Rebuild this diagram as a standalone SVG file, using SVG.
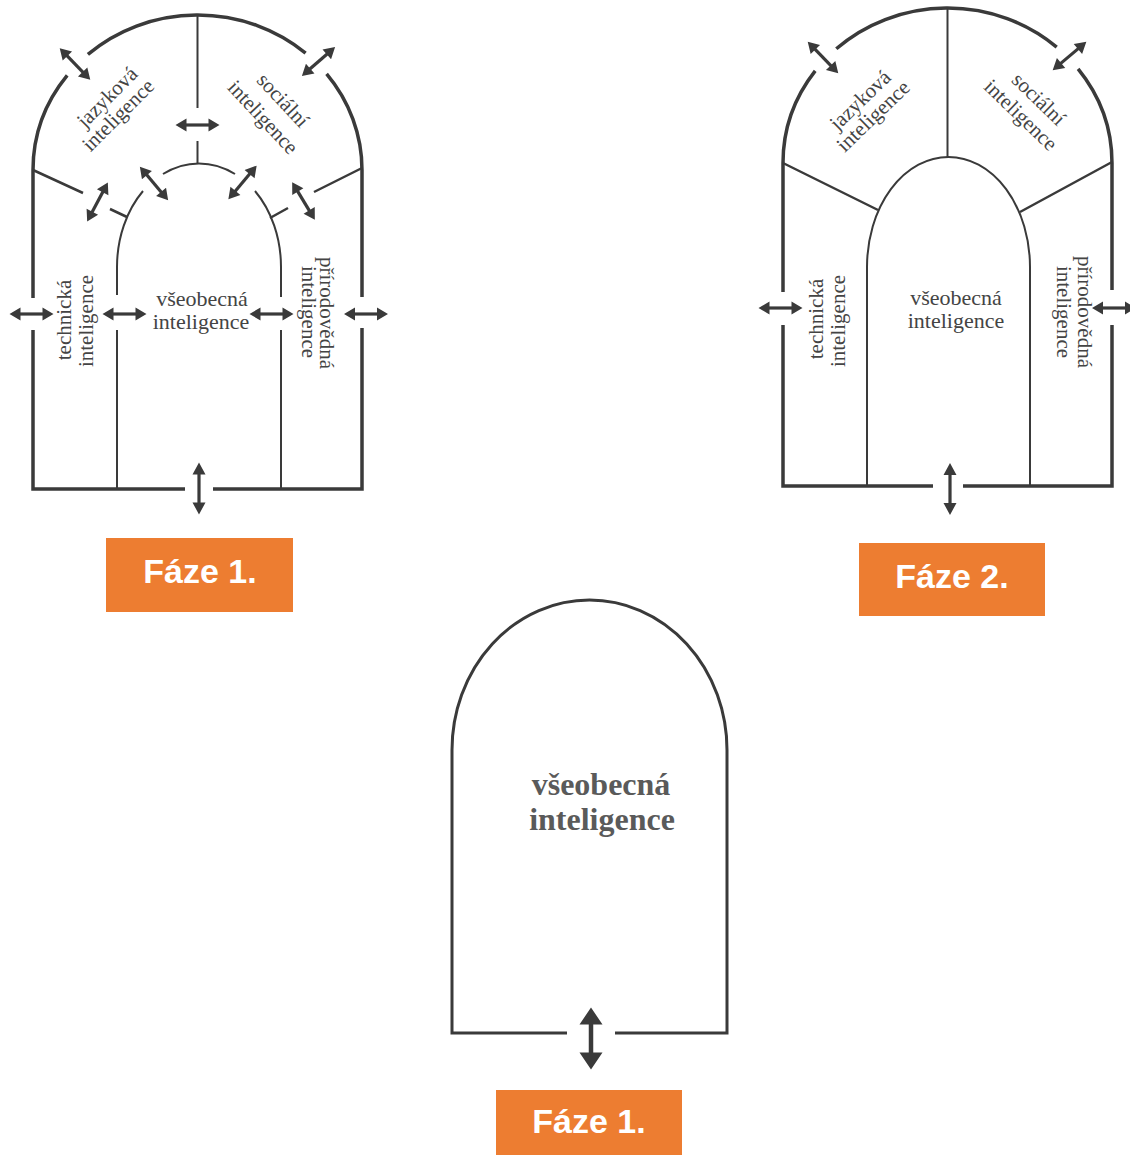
<svg xmlns="http://www.w3.org/2000/svg" xmlns:xlink="http://www.w3.org/1999/xlink" width="1130" height="1155" viewBox="0 0 1130 1155">
<style>
.bg{fill:#ffffff}
.o{fill:none;stroke:#3a3a3a;stroke-width:3.5;stroke-linecap:butt}
.i{fill:none;stroke:#3a3a3a;stroke-width:2}
.d{fill:none;stroke:#3a3a3a;stroke-width:2.5}
.lbl{font-family:"Liberation Serif","DejaVu Serif",serif;font-size:21px;fill:#444;text-anchor:middle}
.big{font-family:"Liberation Serif","DejaVu Serif",serif;font-size:32px;font-weight:bold;fill:#5a5a5a;text-anchor:middle}
.box{fill:#ED7D31}
.bt{font-family:"Liberation Sans",Arial,sans-serif;font-size:34px;font-weight:bold;fill:#ffffff;text-anchor:middle}
.al{stroke:#3a3a3a;stroke-width:3.2}
.ah{fill:#3a3a3a}
</style>
<defs>
<g id="a44"><line class="al" x1="-13" y1="0" x2="13" y2="0"/><path class="ah" d="M-22,0 L-11,-6.5 L-11,6.5 Z M22,0 L11,-6.5 L11,6.5 Z"/></g>
<g id="a52"><line class="al" x1="-16" y1="0" x2="16" y2="0"/><path class="ah" d="M-26,0 L-14,-6.5 L-14,6.5 Z M26,0 L14,-6.5 L14,6.5 Z"/></g>
<g id="a62"><line class="al" style="stroke-width:4.5" x1="-16" y1="0" x2="16" y2="0"/><path class="ah" d="M-31,0 L-14,-11.5 L-14,11.5 Z M31,0 L14,-11.5 L14,11.5 Z"/></g>
</defs>
<rect class="bg" x="0" y="0" width="1130" height="1155"/>

<!-- Figure 1 (Fáze 1, top-left) -->
<g id="fig1">
<path class="o" d="M33,298 L33,170 A164.5,155 0 0 1 67.2,75.4 M87.9,54.4 A164.5,155 0 0 1 305.6,53.1 M326.6,73.9 A164.5,155 0 0 1 362,170 L362,297"/>
<path class="o" d="M33,330 L33,489 L185,489 M213,489 L362,489 L362,328"/>
<path class="i" d="M197.5,15 L197.5,108 M197.5,141 L197.5,163"/>
<path class="i" d="M117,489 L117,330 M117,295 L117,267 A82,104 0 0 1 143,191 M163,174 A82,104 0 0 1 235,174 M255,191 A82,104 0 0 1 281,267 L281,297 M281,330 L281,489"/>
<path class="d" d="M33,170 L83,193 M110,209 L127,217 M362,168 L314,192 M288,208 L270,218"/>
<text class="lbl" transform="translate(112,102) rotate(-45)">jazyková</text>
<text class="lbl" transform="translate(123,120) rotate(-45)">inteligence</text>
<text class="lbl" transform="translate(278,105) rotate(47)">sociální</text>
<text class="lbl" transform="translate(258,122) rotate(47)">inteligence</text>
<text class="lbl" transform="translate(71,320) rotate(-90)">technická</text>
<text class="lbl" transform="translate(93,321) rotate(-90)">inteligence</text>
<text class="lbl" transform="translate(320,313) rotate(90)">přírodovědná</text>
<text class="lbl" transform="translate(302,312) rotate(90)">inteligence</text>
<text class="lbl" style="font-size:22px" x="202" y="306">všeobecná</text>
<text class="lbl" style="font-size:22px" x="201" y="329">inteligence</text>
</g>

<!-- Figure 2 (Fáze 2, top-right) -->
<g id="fig2">
<path class="o" d="M783,292 L783,163 A164.5,155 0 0 1 815.2,70.8 M836.3,48.8 A164.5,155 0 0 1 1056.7,47.1 M1078.1,68.9 A164.5,155 0 0 1 1112,163 L1112,290"/>
<path class="o" d="M783,325 L783,486 L933,486 M963,486 L1112,486 L1112,325"/>
<path class="i" d="M947.5,8 L947.5,157"/>
<path class="i" d="M867,486 L867,267 A81.5,110 0 0 1 1030,267 L1030,486"/>
<path class="d" d="M783,163 L878,210 M1112,162 L1020,212"/>
<text class="lbl" transform="translate(865,105) rotate(-44)">jazyková</text>
<text class="lbl" transform="translate(878,121) rotate(-44)">inteligence</text>
<text class="lbl" transform="translate(1034,104) rotate(44)">sociální</text>
<text class="lbl" transform="translate(1016,120) rotate(44)">inteligence</text>
<text class="lbl" transform="translate(823,319) rotate(-90)">technická</text>
<text class="lbl" transform="translate(845,321) rotate(-90)">inteligence</text>
<text class="lbl" transform="translate(1078,312) rotate(90)">přírodovědná</text>
<text class="lbl" transform="translate(1057,312) rotate(90)">inteligence</text>
<text class="lbl" style="font-size:22px" x="956" y="305">všeobecná</text>
<text class="lbl" style="font-size:22px" x="956" y="328">inteligence</text>
</g>

<!-- Figure 3 (bottom) -->
<g id="fig3">
<path class="o" style="stroke-width:3" d="M567,1033 L452,1033 L452,750 A137.5,150 0 0 1 727,750 L727,1033 L615,1033"/>
<text class="big" x="601" y="795">všeobecná</text>
<text class="big" x="602" y="830">inteligence</text>
</g>

<!-- Connectors (double arrows) -->
<g id="connectors">
<use href="#a44" transform="translate(75,64) rotate(46)"/>
<use href="#a44" transform="translate(318.5,61.5) rotate(-41)"/>
<use href="#a44" transform="translate(197.5,125)"/>
<use href="#a44" transform="translate(97.5,202) rotate(-62)"/>
<use href="#a44" transform="translate(154,183.5) rotate(50)"/>
<use href="#a44" transform="translate(242.5,182.5) rotate(-50)"/>
<use href="#a44" transform="translate(303.5,201) rotate(59)"/>
<use href="#a44" transform="translate(31.5,314)"/>
<use href="#a44" transform="translate(124.5,314)"/>
<use href="#a44" transform="translate(271.5,314)"/>
<use href="#a44" transform="translate(366,314)"/>
<use href="#a52" transform="translate(199,488.5) rotate(90)"/>

<use href="#a44" transform="translate(823,57.5) rotate(46)"/>
<use href="#a44" transform="translate(1069.5,56) rotate(-40)"/>
<use href="#a44" transform="translate(780.5,308)"/>
<use href="#a44" transform="translate(1114,308)"/>
<use href="#a52" transform="translate(950,489) rotate(90)"/>

<use href="#a62" transform="translate(591,1038.5) rotate(90)"/>
</g>

<!-- Phase labels -->
<g id="label1"><rect class="box" x="106" y="538" width="187" height="74"/><text class="bt" x="200" y="583">Fáze 1.</text></g>
<g id="label2"><rect class="box" x="859" y="543" width="186" height="73"/><text class="bt" x="952" y="588">Fáze 2.</text></g>
<g id="label3"><rect class="box" x="496" y="1090" width="186" height="65"/><text class="bt" x="589" y="1133">Fáze 1.</text></g>
</svg>
